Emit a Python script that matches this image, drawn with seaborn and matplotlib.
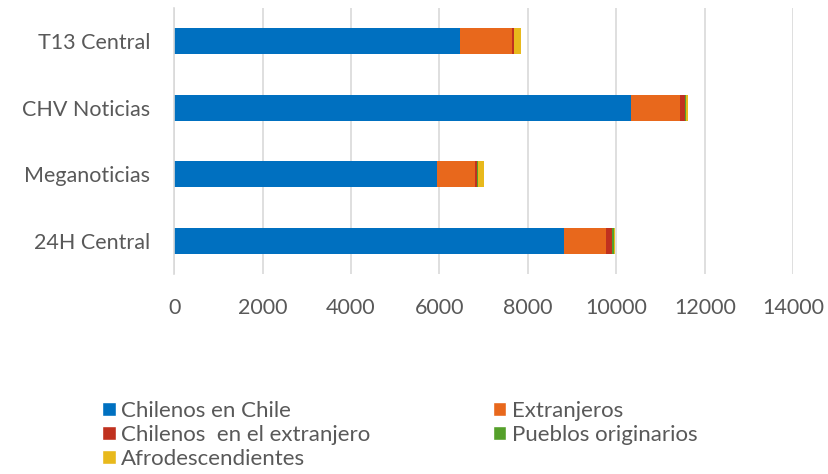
import numpy as np
import pandas as pd
import matplotlib
matplotlib.use('Agg')
import matplotlib.pyplot as plt
import seaborn as sns
from matplotlib.patches import Patch

# datos
programas = ['T13 Central', 'CHV Noticias', 'Meganoticias', '24H Central']
chilenos_chile = [6470, 10340, 5950, 8820]
extranjeros = [1170, 1095, 860, 940]
chilenos_extranjero = [35, 120, 45, 135]
pueblos_originarios = [10, 10, 20, 50]
afrodescendientes = [160, 45, 135, 20]

series = ['Chilenos en Chile', 'Extranjeros', 'Chilenos  en el extranjero',
          'Pueblos originarios', 'Afrodescendientes']
colores = ['#0070C0', '#E8681C', '#C0311F', '#55A02A', '#E8B91C']

sns.set_style('white')
plt.rcParams['font.family'] = ['Lato', 'DejaVu Sans']

df = pd.DataFrame({
    'programa': programas,
    series[0]: chilenos_chile,
    series[1]: extranjeros,
    series[2]: chilenos_extranjero,
    series[3]: pueblos_originarios,
    series[4]: afrodescendientes,
})
acum = df[series].cumsum(axis=1)
acum['programa'] = programas

fig = plt.figure(figsize=(8.29, 4.74), dpi=100)
ax = fig.add_axes([0.21, 0.422, 0.747, 0.561])

#barras apiladas: se dibuja del acumulado mayor al menor
for s, c in reversed(list(zip(series, colores))):
    sns.barplot(data=acum, x=s, y='programa', order=programas, color=c,
                width=0.39, saturation=1, ax=ax, orient='h', linewidth=0)

ax.set_xlim(0, 14000)
ax.set_xticks(np.arange(0, 14001, 2000))
ax.xaxis.grid(True, color='#D9D9D9', linewidth=1.2)
ax.set_axisbelow(True)
for sp in ['top', 'right', 'bottom']:
    ax.spines[sp].set_visible(False)
ax.spines['left'].set_color('#D9D9D9')
ax.spines['left'].set_linewidth(1.2)
ax.set_xlabel('')
ax.set_ylabel('')
ax.tick_params(axis='x', colors='#595959', labelsize=15.5, length=0, pad=17)
ax.tick_params(axis='y', colors='#595959', labelsize=15.5, length=0, pad=17)

#orden por filas en la leyenda
handles = [Patch(facecolor=c, label=s) for s, c in zip(series, colores)]
handles = [handles[i] for i in [0, 2, 4, 1, 3]]
fig.legend(handles=handles, loc='upper left', bbox_to_anchor=(0.11, 0.178),
           ncol=2, frameon=False, fontsize=16, labelcolor='#595959',
           handlelength=0.6, handleheight=0.6, handletextpad=0.25,
           labelspacing=0.18, columnspacing=5.5, borderpad=0)

fig.savefig('out.png', dpi=100)
